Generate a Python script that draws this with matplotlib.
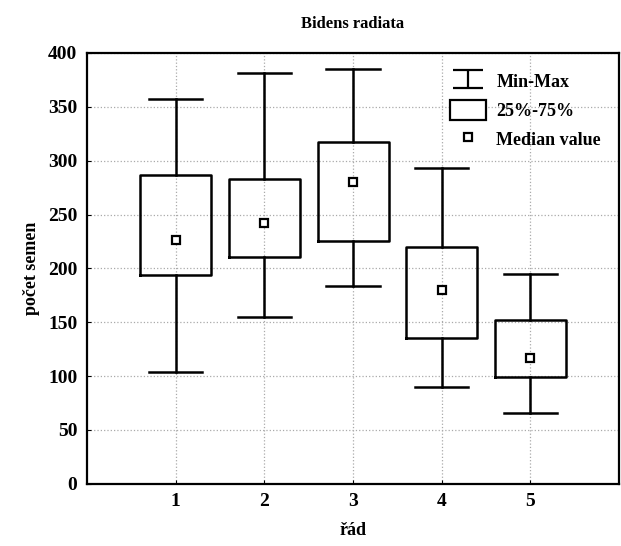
import matplotlib.pyplot as plt
from matplotlib.lines import Line2D
from matplotlib.patches import Patch
from matplotlib.path import Path

# Bidens radiata: počet semen podle řádu
rady = [1, 2, 3, 4, 5]
minima = [104, 155, 184, 90, 66]
q25 = [194, 211, 225, 135, 99]
mediany = [226, 242, 280, 180, 117]
q75 = [287, 283, 317, 220, 152]
maxima = [357, 381, 385, 293, 195]

plt.rcParams['font.family'] = ['Liberation Serif', 'DejaVu Serif']
plt.rcParams['font.weight'] = 'bold'

fig = plt.figure(figsize=(6.21, 5.46), dpi=100)
ax = fig.add_axes([0.140, 0.114, 0.857, 0.789])

stats = []
for lo, a, m, b, hi in zip(minima, q25, mediany, q75, maxima):
    stats.append({'whislo': lo, 'q1': a, 'med': m, 'q3': b, 'whishi': hi})

ax.bxp(stats, positions=rady, widths=0.8, capwidths=0.6, showfliers=False,
       boxprops=dict(color='black', linewidth=1.8),
       whiskerprops=dict(color='black', linewidth=1.8),
       capprops=dict(color='black', linewidth=1.8),
       medianprops=dict(visible=False), manage_ticks=False)
ax.plot(rady, mediany, linestyle='none', marker='s', markersize=6,
        markerfacecolor='white', markeredgecolor='black', markeredgewidth=1.6)

ax.set_xlim(0, 6)
ax.set_ylim(0, 400)
ax.set_xticks(rady)
ax.set_yticks(range(0, 401, 50))
ax.tick_params(direction='in', length=3, labelsize=14, pad=7)
ax.grid(True, linestyle=':', color='#aaaaaa', linewidth=0.9)
for s in ax.spines.values():
    s.set_linewidth(1.6)

ax.set_title('Bidens radiata', fontsize=12, fontweight='bold', pad=18)
ax.set_xlabel('řád', fontsize=13, fontweight='bold', labelpad=8)
ax.set_ylabel('počet semen', fontsize=13, fontweight='bold', labelpad=6)

# značka pro rozpětí min-max
tvar = Path([(-1, 0.6), (1, 0.6), (0, 0.6), (0, -0.6), (-1, -0.6), (1, -0.6)],
            [Path.MOVETO, Path.LINETO, Path.MOVETO, Path.LINETO, Path.MOVETO, Path.LINETO])
h1 = Line2D([], [], linestyle='none', marker=tvar, markersize=22,
            markerfacecolor='none', markeredgecolor='black', markeredgewidth=1.6)
h2 = Patch(facecolor='white', edgecolor='black', linewidth=1.6)
h3 = Line2D([], [], linestyle='none', marker='s', markersize=6,
            markerfacecolor='white', markeredgecolor='black', markeredgewidth=1.6)
ax.legend([h1, h2, h3], ['Min-Max', '25%-75%', 'Median value'], loc='upper right',
          frameon=False, fontsize=13, handlelength=2.0, handleheight=1.3,
          labelspacing=0.5, handletextpad=0.6, borderaxespad=0.6)

fig.savefig('out.png', dpi=100)
